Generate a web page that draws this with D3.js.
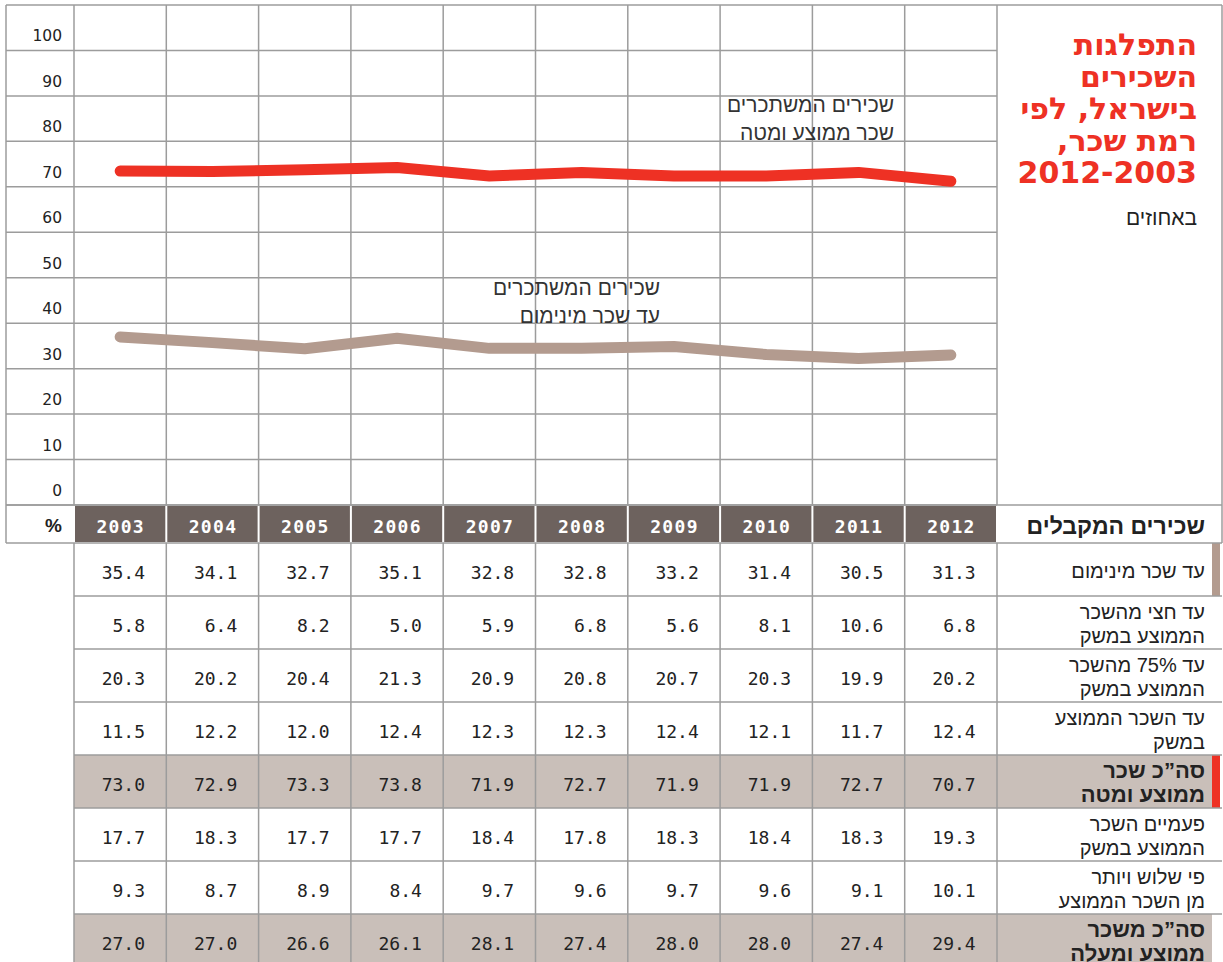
<!DOCTYPE html>
<html lang="he">
<head>
<meta charset="utf-8">
<script src="https://cdn.jsdelivr.net/npm/d3@7"></script>
<style>
  body { margin: 0; background: #fff; }
  svg { display: block; }
  .heb { font-family: "Liberation Sans", "DejaVu Sans", sans-serif; }
  .num { font-family: "DejaVu Sans Mono", monospace; }
  .ttl { font-family: "DejaVu Sans", "Liberation Sans", sans-serif; }
</style>
</head>
<body>
<div id="chart"></div>
<script>
// data
var years = [2003, 2004, 2005, 2006, 2007, 2008, 2009, 2010, 2011, 2012];
var yTicks = [0, 10, 20, 30, 40, 50, 60, 70, 80, 90, 100];

var minWage      = [35.4, 34.1, 32.7, 35.1, 32.8, 32.8, 33.2, 31.4, 30.5, 31.3];
var halfAvg      = [5.8, 6.4, 8.2, 5.0, 5.9, 6.8, 5.6, 8.1, 10.6, 6.8];
var upTo75       = [20.3, 20.2, 20.4, 21.3, 20.9, 20.8, 20.7, 20.3, 19.9, 20.2];
var upToAvg      = [11.5, 12.2, 12.0, 12.4, 12.3, 12.3, 12.4, 12.1, 11.7, 12.4];
var totalBelow   = [73.0, 72.9, 73.3, 73.8, 71.9, 72.7, 71.9, 71.9, 72.7, 70.7];
var twiceAvg     = [17.7, 18.3, 17.7, 17.7, 18.4, 17.8, 18.3, 18.4, 18.3, 19.3];
var threeTimes   = [9.3, 8.7, 8.9, 8.4, 9.7, 9.6, 9.7, 9.6, 9.1, 10.1];
var totalAbove   = [27.0, 27.0, 26.6, 26.1, 28.1, 27.4, 28.0, 28.0, 27.4, 29.4];

var rowLabels = [
  ["עד שכר מינימום"],
  ["עד חצי מהשכר", "הממוצע במשק"],
  ["עד 75% מהשכר", "הממוצע במשק"],
  ["עד השכר הממוצע", "במשק"],
  ["סה”כ שכר", "ממוצע ומטה"],
  ["פעמיים השכר", "הממוצע במשק"],
  ["פי שלוש ויותר", "מן השכר הממוצע"],
  ["סה”כ משכר", "ממוצע ומעלה"]
];
var rowValues = [minWage, halfAvg, upTo75, upToAvg, totalBelow, twiceAvg, threeTimes, totalAbove];
var rowBold = [false, false, false, false, true, false, false, true];
var rowMarker = ["#b39b8f", null, null, null, "#ee3124", null, null, null];

var titleLines = ["התפלגות", "השכירים", "בישראל, לפי", "רמת שכר,", "2012-2003"];
var unitText = "באחוזים";
var headLabel = "שכירים המקבלים";
var lineLabels = [
  { lines: ["שכירים המשתכרים", "שכר ממוצע ומטה"], x: 894, y: 112 },
  { lines: ["שכירים המשתכרים", "עד שכר מינימום"], x: 660, y: 295 }
];

var W = 1223, H = 962;
var leftX = 6, axisR = 74, plotR = 997, frameR = 1222;
var topY = 5, plotB = 505, headB = 543, rowH = 53;
var gridCol = "#9c9c9c", red = "#ee3124", brown = "#b39b8f";

var svg = d3.select('#chart').append('svg')
  .attr('width', W).attr('height', H);

var x = d3.scaleBand().domain(years).range([axisR, plotR]);
var gy = d3.scaleLinear().domain([0, 110]).range([plotB, topY]);
var ly = d3.scaleLinear().domain([0, 100]).range([493, 52]);

var rowTop = function (i) { return headB + i * rowH; };

// shaded rows and colour markers
rowValues.forEach(function (vals, i) {
  if (rowBold[i]) {
    svg.append('rect')
      .attr('x', axisR).attr('y', rowTop(i))
      .attr('width', 1212 - axisR).attr('height', rowH)
      .attr('fill', '#c9bfb9');
  }
  if (rowMarker[i]) {
    svg.append('rect')
      .attr('x', 1212).attr('y', rowTop(i))
      .attr('width', 8).attr('height', rowH)
      .attr('fill', rowMarker[i]);
  }
});

// grid lines in the plot
svg.append('g').selectAll('line')
  .data(yTicks)
  .enter().append('line')
  .attr('x1', leftX).attr('x2', plotR)
  .attr('y1', function (d) { return gy(d); })
  .attr('y2', function (d) { return gy(d); })
  .attr('stroke', gridCol).attr('stroke-width', 1.5);

var colEdges = years.map(function (d) { return x(d); }).concat([plotR]);

svg.append('g').selectAll('line')
  .data(colEdges)
  .enter().append('line')
  .attr('x1', function (d) { return d; }).attr('x2', function (d) { return d; })
  .attr('y1', topY).attr('y2', plotB)
  .attr('stroke', gridCol).attr('stroke-width', 1.5);

// table vertical lines
svg.append('g').selectAll('line')
  .data(colEdges)
  .enter().append('line')
  .attr('x1', function (d) { return d; }).attr('x2', function (d) { return d; })
  .attr('y1', headB).attr('y2', H)
  .attr('stroke', gridCol).attr('stroke-width', 1.5);

// table horizontal lines
svg.append('g').selectAll('line')
  .data(d3.range(1, rowValues.length))
  .enter().append('line')
  .attr('x1', axisR).attr('x2', frameR)
  .attr('y1', function (d) { return rowTop(d); })
  .attr('y2', function (d) { return rowTop(d); })
  .attr('stroke', gridCol).attr('stroke-width', 1.5);

// outer frame of top part
var frame = [
  [leftX, topY, frameR, topY],
  [leftX, headB, frameR, headB],
  [leftX, topY, leftX, headB],
  [frameR, topY, frameR, headB],
  [leftX, plotB, frameR, plotB]
];
svg.append('g').selectAll('line')
  .data(frame)
  .enter().append('line')
  .attr('x1', function (d) { return d[0]; }).attr('y1', function (d) { return d[1]; })
  .attr('x2', function (d) { return d[2]; }).attr('y2', function (d) { return d[3]; })
  .attr('stroke', gridCol).attr('stroke-width', 1.5);

// y labels
svg.append('g').selectAll('text')
  .data(yTicks)
  .enter().append('text')
  .attr('x', 62)
  .attr('y', function (d) { return gy(d) - 9; })
  .attr('text-anchor', 'end')
  .style('font-family', '"DejaVu Sans", sans-serif')
  .style('font-size', '15.5px')
  .attr('fill', '#222')
  .text(function (d) { return d; });

// header row
svg.append('g').selectAll('rect')
  .data(years)
  .enter().append('rect')
  .attr('x', function (d) { return x(d) + 1; })
  .attr('y', plotB + 1)
  .attr('width', x.bandwidth() - 2)
  .attr('height', headB - plotB - 2)
  .attr('fill', '#6d625e');

svg.append('g').selectAll('text')
  .data(years)
  .enter().append('text')
  .attr('class', 'num')
  .attr('x', function (d) { return x(d) + 71; })
  .attr('y', 533)
  .attr('text-anchor', 'end')
  .style('font-size', '18px')
  .style('font-weight', 'bold')
  .style('letter-spacing', '1.3px')
  .attr('fill', '#fff')
  .text(function (d) { return d; });

svg.append('text')
  .attr('class', 'heb')
  .attr('x', 62).attr('y', 532)
  .attr('text-anchor', 'end')
  .style('font-size', '19px').style('font-weight', 'bold')
  .attr('fill', '#222')
  .text('%');

svg.append('text')
  .attr('class', 'heb')
  .attr('x', 1205).attr('y', 534)
  .attr('direction', 'rtl')
  .attr('text-anchor', 'start')
  .style('font-size', '23px').style('font-weight', 'bold')
  .attr('fill', '#222')
  .text(headLabel);

// table values and labels
rowValues.forEach(function (vals, i) {
  var g = svg.append('g');
  g.selectAll('text')
    .data(vals)
    .enter().append('text')
    .attr('class', 'num')
    .attr('x', function (d, j) { return x(years[j]) + 71; })
    .attr('y', rowTop(i) + 36)
    .attr('text-anchor', 'end')
    .style('font-size', '18px')
    .attr('fill', '#222')
    .text(function (d) { return d.toFixed(1); });

  var lines = rowLabels[i];
  var base = lines.length === 1 ? [rowTop(i) + 35] : [rowTop(i) + 23, rowTop(i) + 47];
  g.selectAll('text.lbl')
    .data(lines)
    .enter().append('text')
    .attr('class', 'heb lbl')
    .attr('x', 1205)
    .attr('y', function (d, k) { return base[k]; })
    .attr('direction', 'rtl')
    .attr('text-anchor', 'start')
    .style('font-size', rowBold[i] ? '22px' : '20px')
    .style('font-weight', rowBold[i] ? 'bold' : 'normal')
    .attr('fill', '#222')
    .text(function (d) { return d; });
});

// title
svg.append('g').selectAll('text')
  .data(titleLines)
  .enter().append('text')
  .attr('class', 'ttl')
  .attr('x', 1197)
  .attr('y', function (d, i) { return 55 + i * 32; })
  .attr('direction', 'rtl')
  .attr('text-anchor', 'start')
  .style('font-size', '30px').style('font-weight', 'bold')
  .attr('fill', red)
  .text(function (d) { return d; });

svg.append('text')
  .attr('class', 'heb')
  .attr('x', 1197).attr('y', 225)
  .attr('direction', 'rtl')
  .attr('text-anchor', 'start')
  .style('font-size', '21px')
  .attr('fill', '#222')
  .text(unitText);

// lines
var line = d3.line()
  .x(function (d, i) { return x(years[i]) + x.bandwidth() / 2; })
  .y(function (d) { return ly(d); });

svg.append('path')
  .datum(minWage)
  .attr('d', line)
  .attr('fill', 'none')
  .attr('stroke', brown)
  .attr('stroke-width', 11)
  .attr('stroke-linecap', 'round')
  .attr('stroke-linejoin', 'round');

svg.append('path')
  .datum(totalBelow)
  .attr('d', line)
  .attr('fill', 'none')
  .attr('stroke', red)
  .attr('stroke-width', 11)
  .attr('stroke-linecap', 'round')
  .attr('stroke-linejoin', 'round');

// line labels
lineLabels.forEach(function (lab) {
  svg.append('g').selectAll('text')
    .data(lab.lines)
    .enter().append('text')
    .attr('class', 'heb')
    .attr('x', lab.x)
    .attr('y', function (d, k) { return lab.y + k * 28; })
    .attr('direction', 'rtl')
    .attr('text-anchor', 'start')
    .style('font-size', '21px')
    .attr('fill', '#333')
    .text(function (d) { return d; });
});
</script>
</body>
</html>
